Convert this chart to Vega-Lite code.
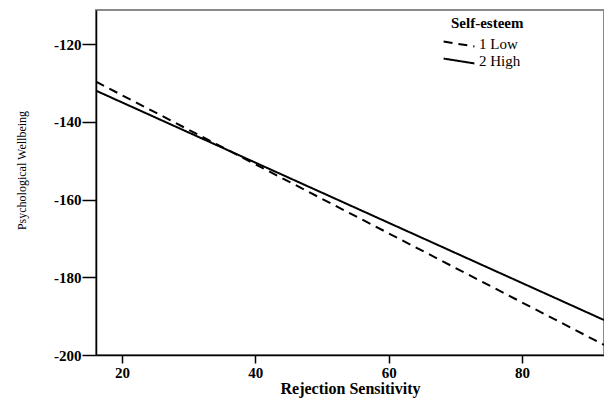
{
  "$schema": "https://vega.github.io/schema/vega-lite/v6.json",
  "autosize": {"type": "none"},
  "padding": {"left": 96, "top": 10, "right": 0, "bottom": 43},
  "width": 508,
  "height": 345,
  "background": "white",
  "config": {
    "font": "Liberation Serif",
    "view": {"stroke": "#8a8a8a", "strokeWidth": 2},
    "axis": {
      "grid": false,
      "domainColor": "black",
      "domainWidth": 1.5,
      "tickColor": "black",
      "tickWidth": 1.5,
      "labelColor": "black",
      "titleColor": "black",
      "labelFont": "Liberation Serif",
      "titleFont": "Liberation Serif"
    }
  },
  "data": {
    "values": [
      {"x": 16.1, "y": -129.7, "group": "1 Low"},
      {"x": 92.3, "y": -197.4, "group": "1 Low"},
      {"x": 16.1, "y": -132.0, "group": "2 High"},
      {"x": 92.3, "y": -191.0, "group": "2 High"}
    ]
  },
  "mark": {"type": "line", "color": "black", "strokeWidth": 2, "clip": true},
  "encoding": {
    "x": {
      "field": "x",
      "type": "quantitative",
      "scale": {"domain": [16.1, 92.3], "nice": false, "zero": false},
      "axis": {
        "values": [20, 40, 60, 80],
        "title": "Rejection Sensitivity",
        "tickSize": 8,
        "labelPadding": 2,
        "labelFontSize": 15,
        "labelFontWeight": "bold",
        "titleFontSize": 16,
        "titleFontWeight": "bold",
        "titleBaseline": "alphabetic",
        "titleY": 38
      }
    },
    "y": {
      "field": "y",
      "type": "quantitative",
      "scale": {"domain": [-200, -111.25], "nice": false, "zero": false},
      "axis": {
        "values": [-200, -180, -160, -140, -120],
        "labelExpr": "'' + datum.value",
        "title": "Psychological Wellbeing",
        "tickSize": 14,
        "labelPadding": 1,
        "labelFontSize": 15,
        "labelFontWeight": "bold",
        "titleFontSize": 12,
        "titleFontWeight": "normal",
        "titleAngle": -90,
        "titleAlign": "center",
        "titleBaseline": "middle",
        "titleX": -75,
        "titleY": 160
      }
    },
    "strokeDash": {
      "field": "group",
      "type": "nominal",
      "scale": {"domain": ["1 Low", "2 High"], "range": [[9, 6], [1, 0]]},
      "legend": {
        "title": "Self-esteem",
        "orient": "none",
        "legendX": 355,
        "legendY": 6,
        "titleFontSize": 15,
        "titleFontWeight": "bold",
        "titleColor": "black",
        "titlePadding": 5,
        "labelFontSize": 15,
        "labelColor": "black",
        "labelOffset": 12,
        "rowPadding": 1,
        "symbolType": "M-2.2,-0.35L2.2,0.35",
        "symbolSize": 196,
        "symbolStrokeWidth": 2,
        "symbolStrokeColor": "black"
      }
    }
  }
}
